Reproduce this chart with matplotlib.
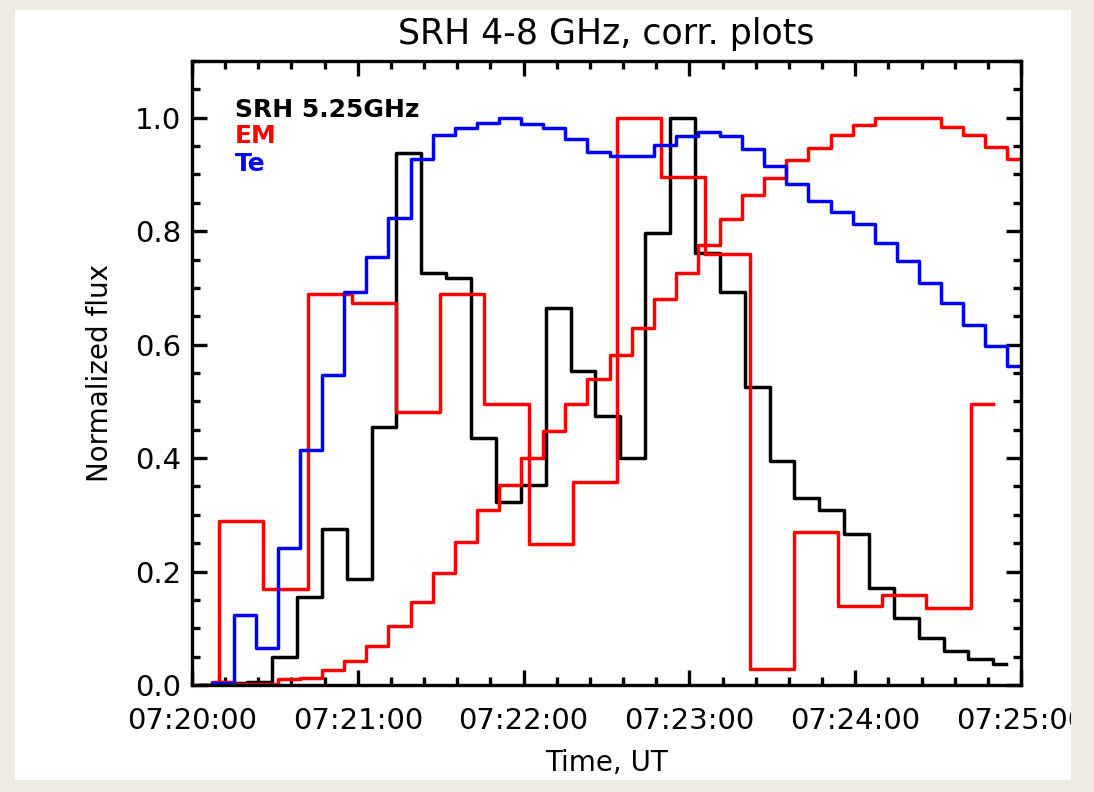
import matplotlib
matplotlib.use('Agg')
import matplotlib.pyplot as plt
from matplotlib.ticker import MultipleLocator, FuncFormatter
from matplotlib.patches import Rectangle

plt.rcParams['font.family'] = 'DejaVu Sans'

# seconds after 07:20:00
t_srh = [15.5, 24.5, 33.5, 42.5, 51.5, 60.5, 69.5, 78.5, 87.5, 96.5, 105.5,
         114.5, 123.5, 132.5, 141.5, 150.5, 159.5, 168.5, 177.5, 186.5, 195.5,
         204.5, 213.5, 222.5, 231.5, 240.5, 249.5, 258.5, 267.5, 276.5, 285.5,
         294.5]
srh = [0.003, 0.005, 0.049, 0.155, 0.275, 0.187, 0.454, 0.937, 0.727, 0.718,
       0.435, 0.322, 0.352, 0.664, 0.553, 0.474, 0.400, 0.796, 1.000, 0.762,
       0.692, 0.526, 0.394, 0.329, 0.308, 0.266, 0.171, 0.118, 0.083, 0.060,
       0.046, 0.037]

t_em2 = [1.8, 17.8, 33.8, 49.8, 65.8, 81.8, 97.8, 113.8, 129.8, 145.8, 161.8,
         177.8, 193.8, 209.8, 225.8, 241.8, 257.8, 273.8, 289.8]
em2 = [0.0, 0.289, 0.169, 0.690, 0.674, 0.481, 0.690, 0.496, 0.248, 0.357,
       1.000, 0.896, 0.759, 0.028, 0.270, 0.139, 0.158, 0.135, 0.496]

t_dem = [3.1, 11.1, 19.1, 27.1, 35.1, 43.1, 51.1, 59.1, 67.1, 75.1, 83.1,
         91.1, 99.1, 107.1, 115.1, 123.1, 131.1, 139.1, 147.1, 155.1, 163.1,
         171.1, 179.1, 187.1, 195.1, 203.1, 211.1, 219.1, 227.1, 235.1, 243.1,
         251.1, 259.1, 267.1, 275.1, 283.1, 291.1, 299.1]
em = [0.0, 0.005, 0.002, 0.002, 0.011, 0.012, 0.026, 0.042, 0.069, 0.104,
      0.146, 0.197, 0.252, 0.308, 0.352, 0.400, 0.447, 0.496, 0.540, 0.581,
      0.630, 0.681, 0.727, 0.775, 0.822, 0.863, 0.894, 0.926, 0.947, 0.970,
      0.988, 1.000, 1.000, 0.999, 0.984, 0.970, 0.949, 0.928]
te = [0.0, 0.003, 0.123, 0.065, 0.241, 0.414, 0.546, 0.692, 0.755, 0.824,
      0.928, 0.970, 0.982, 0.991, 1.000, 0.989, 0.982, 0.963, 0.940, 0.933,
      0.933, 0.952, 0.968, 0.974, 0.967, 0.945, 0.915, 0.884, 0.854, 0.833,
      0.813, 0.780, 0.748, 0.708, 0.674, 0.634, 0.597, 0.562]

fig = plt.figure(figsize=(10.94, 7.92), dpi=100, facecolor='white')
ax = fig.add_axes([192 / 1094, 1 - 685 / 792, 829 / 1094, 624 / 792])

lw = 2.5
ax.plot(t_srh, srh, drawstyle='steps-mid', color='black', lw=lw)
ax.plot(t_em2, em2, drawstyle='steps-mid', color='#ff0000', lw=lw)
ax.plot(t_dem, em, drawstyle='steps-mid', color='#ff0000', lw=lw)
ax.plot(t_dem, te, drawstyle='steps-mid', color='#0000ff', lw=lw)

ax.set_xlim(0, 300)
ax.set_ylim(0, 1.1)
ax.xaxis.set_major_locator(MultipleLocator(60))
ax.xaxis.set_minor_locator(MultipleLocator(12))
ax.yaxis.set_major_locator(MultipleLocator(0.2))
ax.yaxis.set_minor_locator(MultipleLocator(0.05))
ax.xaxis.set_major_formatter(FuncFormatter(
    lambda v, p: '07:%02d:%02d' % (20 + int(round(v)) // 60, int(round(v)) % 60)))
ax.yaxis.set_major_formatter(FuncFormatter(lambda v, p: '%.1f' % v))

ax.tick_params(which='both', direction='in', top=True, right=True, width=2.4)
ax.tick_params(which='major', length=11)
ax.tick_params(which='minor', length=6)
ax.tick_params(axis='x', which='major', labelsize=21, pad=16)
ax.tick_params(axis='y', which='major', labelsize=21, pad=8)
for s in ax.spines.values():
    s.set_linewidth(2.4)

ax.set_title('SRH 4-8 GHz, corr. plots', fontsize=25, pad=12)
ax.set_xlabel('Time, UT', fontsize=20, labelpad=10)
ax.set_ylabel('Normalized flux', fontsize=20, labelpad=15)

ax.text(0.052, 0.910, 'SRH 5.25GHz', transform=ax.transAxes, color='black',
        fontsize=18, fontweight='bold', va='baseline')
ax.text(0.052, 0.869, 'EM', transform=ax.transAxes, color='#ff0000',
        fontsize=18, fontweight='bold', va='baseline')
ax.text(0.052, 0.824, 'Te', transform=ax.transAxes, color='#0000ff',
        fontsize=18, fontweight='bold', va='baseline')

# beige frame around the white panel, drawn on top so it crops the last label
beige = '#eeebe0'
W, H = 1094, 792
for x0, y0, w, h in [(0, 0, 15, H), (1071, 0, W - 1071, H),
                     (0, 0, W, 12), (0, H - 10, W, 10)]:
    fig.patches.append(Rectangle((x0 / W, y0 / H), w / W, h / H,
                                 transform=fig.transFigure, facecolor=beige,
                                 edgecolor='none', zorder=10))

plt.savefig('out.png', dpi=100, facecolor=fig.get_facecolor())
